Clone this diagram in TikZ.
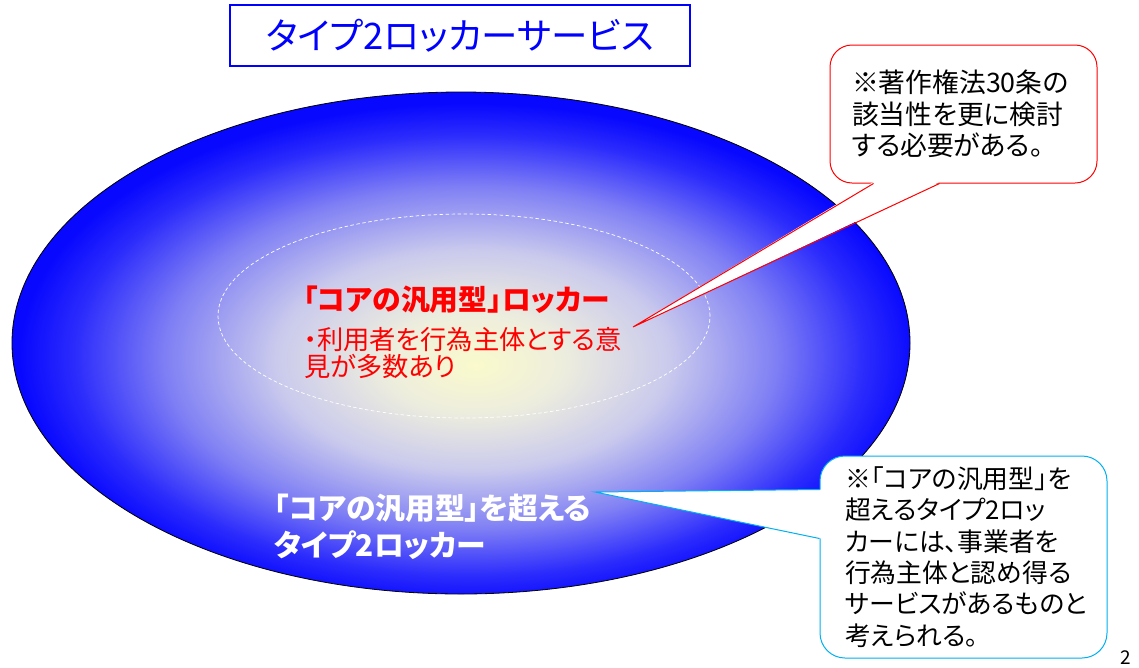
\documentclass[tikz,border=0pt]{standalone}
\usepackage{fontspec}
\setmainfont{Noto Sans CJK JP}[RawFeature=+palt]
\usetikzlibrary{calc}
\definecolor{lockblue}{RGB}{0,0,255}
\definecolor{notecyan}{RGB}{0,176,240}
\pgfdeclareradialshading{lockerglow}{\pgfpoint{0.8bp}{-2.2bp}}{%
  rgb(0bp)=(0.98,0.98,0.80);
  rgb(5bp)=(0.93,0.93,0.87);
  rgb(11bp)=(0.79,0.79,0.93);
  rgb(17bp)=(0.50,0.50,0.96);
  rgb(22bp)=(0.17,0.17,0.99);
  rgb(25bp)=(0.03,0.03,1);
  rgb(50bp)=(0.03,0.03,1)}
\tikzset{
  titlebox/.style={draw=lockblue, line width=1.3pt, text=lockblue, inner sep=0pt,
    minimum width=460pt, minimum height=61pt, font=\fontsize{36.5}{40}\selectfont},
  corering/.style={draw=white, line width=0.7pt, dash pattern=on 3.5pt off 2.5pt},
  corehead/.style={text=red, inner sep=0pt, anchor=west, font=\fontsize{28.8}{30}\selectfont\bfseries},
  corebody/.style={text=red, inner sep=0pt, anchor=west, align=left, font=\fontsize{26.3}{27.5}\selectfont},
  outertext/.style={text=white, inner sep=0pt, anchor=west, align=left, font=\fontsize{29.8}{37}\selectfont\bfseries},
  lawnote/.style={draw=red, line width=1pt, fill=white, rounded corners=22pt,
    minimum width=267pt, minimum height=138pt, inner xsep=22pt, text width=223pt,
    align=left, font=\fontsize{26.8}{31.5}\selectfont},
  servicenote/.style={draw=notecyan, line width=1pt, fill=white, rounded corners=25pt,
    minimum width=287pt, minimum height=202pt, inner xsep=25pt, text width=237pt,
    align=left, font=\fontsize{25.8}{31.3}\selectfont},
}
\begin{document}
\begin{tikzpicture}[x=1pt, y=-1pt]
  \path[use as bounding box] (0,0) rectangle (1139,667);
  \node[titlebox] (title) at (460,35.5) {タイプ2ロッカーサービス};
  % the locker service field
  \shade[shading=lockerglow, draw=black, line width=0.8pt] (461,343) ellipse [x radius=449pt, y radius=251pt];
  \draw[corering] (464,316) ellipse [x radius=246pt, y radius=102pt];
  \node[corehead] (corehead) at (303,300) {「コアの汎用型」ロッカー};
  \node[corebody] (corebody) at (304,353) {・利用者を行為主体とする意\\見が多数あり};
  \node[outertext] (outertext) at (274,527) {「コアの汎用型」を超える\\タイプ2ロッカー};
  % callouts
  \node[lawnote] (lawnote) at (963.5,114) {※著作権法30条の\\該当性を更に検討\\する必要がある。};
  \coordinate (lawtip) at (633,327);
  \fill[white] ([xshift=44pt,yshift=1.5pt]lawnote.south west) -- (lawtip) -- ([xshift=110pt,yshift=1.5pt]lawnote.south west) -- cycle;
  \draw[red, line width=1pt] ([xshift=44pt]lawnote.south west) -- (lawtip) -- ([xshift=110pt]lawnote.south west);
  \node[servicenote] (servicenote) at (963.5,557) {※「コアの汎用型」を\\超えるタイプ2ロッ\\カーには、事業者を\\行為主体と認め得る\\サービスがあるものと\\考えられる。};
  \coordinate (servicetip) at (595,492);
  \fill[white] ([xshift=1.5pt,yshift=-34pt]servicenote.north west) -- (servicetip) -- ([xshift=1.5pt,yshift=-83pt]servicenote.north west) -- cycle;
  \draw[notecyan, line width=1pt] ([yshift=-34pt]servicenote.north west) -- (servicetip) -- ([yshift=-83pt]servicenote.north west);
  \node[font=\fontsize{19}{22}\selectfont, inner sep=0pt] (pageno) at (1126,658) {2};
\end{tikzpicture}
\end{document}
